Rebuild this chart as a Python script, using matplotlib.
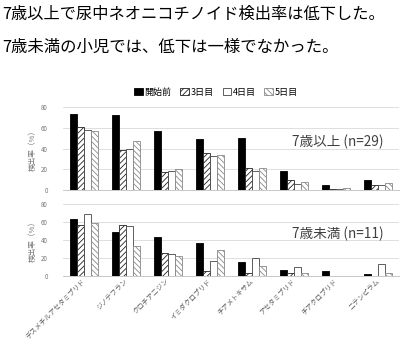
import matplotlib
matplotlib.use("Agg")
import matplotlib.pyplot as plt
import numpy as np

plt.rcParams['font.family'] = ['Noto Sans CJK JP', 'DejaVu Sans']
plt.rcParams['hatch.linewidth'] = 0.6

categories = ["デスメチルアセタミプリド", "ジノテフラン", "クロチアニジン", "イミダクロプリド",
              "チアメトキサム", "アセタミプリド", "チアクロプリド", "ニテンピラム"]
series = ["開始前", "3日目", "4日目", "5日目"]

over7 = {
    "開始前": [73, 72, 57, 49, 50, 18, 5, 10],
    "3日目": [61, 39, 17, 36, 21, 10, 1, 5],
    "4日目": [58, 40, 18, 33, 18, 6, 1, 5],
    "5日目": [57, 47, 20, 34, 21, 8, 2, 7],
}
under7 = {
    "開始前": [63, 49, 43, 37, 15, 7, 5, 2],
    "3日目": [57, 57, 25, 6, 3, 3, 0, 0],
    "4日目": [69, 55, 24, 17, 20, 10, 0, 13],
    "5日目": [59, 33, 22, 29, 11, 3, 0, 3],
}

styles = {
    "開始前": dict(facecolor="black", edgecolor="black", hatch=None),
    "3日目": dict(facecolor="white", edgecolor="#222222", hatch="//////"),
    "4日目": dict(facecolor="white", edgecolor="#444444", hatch=None),
    "5日目": dict(facecolor="white", edgecolor="#888888", hatch="\\\\\\\\\\\\"),
}

fig = plt.figure(figsize=(4.0, 3.45), dpi=100)
fig.text(0.005, 0.957, "7歳以上で尿中ネオニコチノイド検出率は低下した。", fontsize=11.7, va="center")
fig.text(0.005, 0.864, "7歳未満の小児では、低下は一様でなかった。", fontsize=11.8, va="center")

x = np.arange(len(categories))
w = 0.172


def draw_panel(ax, data, label):
    for i, s in enumerate(series):
        ax.bar(x + (i - 1.5) * w, data[s], width=w, linewidth=0.6, label=s, **styles[s])
    ax.set_xlim(-0.5, len(categories) - 0.5)
    ax.set_ylim(0, 80)
    ax.set_yticks([0, 20, 40, 60, 80])
    ax.yaxis.grid(True, color="#d9d9d9", linewidth=0.6)
    ax.set_axisbelow(True)
    for sp in ["top", "right", "left"]:
        ax.spines[sp].set_visible(False)
    ax.spines["bottom"].set_color("#bfbfbf")
    ax.spines["bottom"].set_linewidth(0.6)
    ax.tick_params(axis="y", length=0, labelsize=4.5, labelcolor="#777777", pad=11)
    ax.tick_params(axis="x", length=0)
    ax.set_ylabel("検出率（%）", fontsize=5.5, color="#777777", labelpad=3)
    ax.text(0.955, 0.58, label, transform=ax.transAxes, ha="right", va="center",
            fontsize=9.8, color="#404040")


ax1 = fig.add_axes([0.1575, 0.449, 0.84, 0.2406])
draw_panel(ax1, over7, "7歳以上 (n=29)")
ax1.set_xticks(x)
ax1.set_xticklabels([])

ax2 = fig.add_axes([0.1575, 0.2, 0.84, 0.2087])
draw_panel(ax2, under7, "7歳未満 (n=11)")
ax2.set_xticks(x)
ax2.set_xticklabels(categories, rotation=45, ha="right", va="center", rotation_mode="anchor",
                    fontsize=4.9, color="#555555")
ax2.tick_params(axis="x", pad=3)

handles, labels = ax1.get_legend_handles_labels()
fig.legend(handles, labels, loc="center", bbox_to_anchor=(0.54, 0.733), ncol=4,
           frameon=False, fontsize=6.5, handlelength=0.9, handleheight=0.9,
           handletextpad=0.2, columnspacing=1.0)

fig.savefig("out.png", dpi=100)
